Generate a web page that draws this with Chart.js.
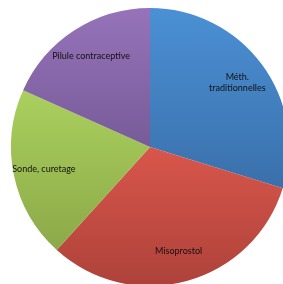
<!DOCTYPE html>
<html>
<head>
<meta charset="utf-8">
<script src="https://cdn.jsdelivr.net/npm/chart.js@4/dist/chart.umd.min.js"></script>
<style>
html,body{margin:0;padding:0;background:#fff;overflow:hidden;width:283px;height:284px;}
#wrap{position:absolute;left:0;top:0;width:300px;height:300px;}
</style>
</head>
<body>
<div id="wrap"><canvas id="c" width="300" height="300"></canvas></div>
<script>
const labels = ['Méth. traditionnelles', 'Misoprostol', 'Sonde, curetage', 'Pilule contraceptive'];
const labelLines = [['Méth.', 'traditionnelles'], ['Misoprostol'], ['Sonde, curetage'], ['Pilule contraceptive']];
const values = [29.8, 31.9, 20.0, 18.3];
const topColors = ['#4b90d5', '#d9564b', '#aad05e', '#9673ba'];
const bottomColors = ['#3a70ab', '#ad423a', '#8ca948', '#775b98'];

function sliceGradient(c) {
  const chart = c.chart;
  const a = chart.chartArea;
  const i = c.dataIndex;
  if (!a || i === undefined) return topColors[i || 0];
  const cx = (a.left + a.right) / 2, cy = (a.top + a.bottom) / 2;
  const r = Math.min(a.right - a.left, a.bottom - a.top) / 2;
  const total = values.reduce((s, v) => s + v, 0);
  let start = -Math.PI / 2;
  for (let k = 0; k < i; k++) start += values[k] / total * Math.PI * 2;
  const end = start + values[i] / total * Math.PI * 2;
  const ys = [cy, cy + r * Math.sin(start), cy + r * Math.sin(end)];
  for (let t = -Math.PI / 2; t <= 2 * Math.PI; t += Math.PI) {
    if (t > start && t < end) ys.push(cy + r * Math.sin(t));
  }
  const y0 = Math.min(...ys), y1 = Math.max(...ys);
  const g = chart.ctx.createLinearGradient(0, y0, 0, y1);
  g.addColorStop(0, topColors[i]);
  g.addColorStop(1, bottomColors[i]);
  return g;
}

const labelPlugin = {
  id: 'sliceLabels',
  afterDatasetsDraw(chart) {
    const ctx = chart.ctx;
    const meta = chart.getDatasetMeta(0);
    ctx.save();
    ctx.font = '9px Lato, "Open Sans", sans-serif';
    ctx.fillStyle = '#111';
    ctx.textAlign = 'center';
    ctx.textBaseline = 'middle';
    meta.data.forEach((arc, i) => {
      const p = arc.getProps(['x', 'y', 'startAngle', 'endAngle', 'outerRadius'], true);
      const mid = (p.startAngle + p.endAngle) / 2;
      const rr = p.outerRadius * 0.78;
      const x = p.x + Math.cos(mid) * rr;
      const y = p.y + Math.sin(mid) * rr;
      const lines = labelLines[i];
      const lh = 11.5;
      lines.forEach((ln, j) => {
        ctx.fillText(ln, x, y + (j - (lines.length - 1) / 2) * lh);
      });
    });
    ctx.restore();
  }
};

new Chart(document.getElementById('c'), {
  type: 'pie',
  data: {
    labels: labels,
    datasets: [{
      data: values,
      backgroundColor: sliceGradient,
      borderWidth: 0,
      hoverOffset: 0
    }]
  },
  options: {
    responsive: false,
    animation: false,
    layout: { padding: { left: 11, right: 11, top: 8, bottom: 14 } },
    plugins: {
      legend: { display: false },
      tooltip: { enabled: false }
    }
  },
  plugins: [labelPlugin]
});
</script>
</body>
</html>
